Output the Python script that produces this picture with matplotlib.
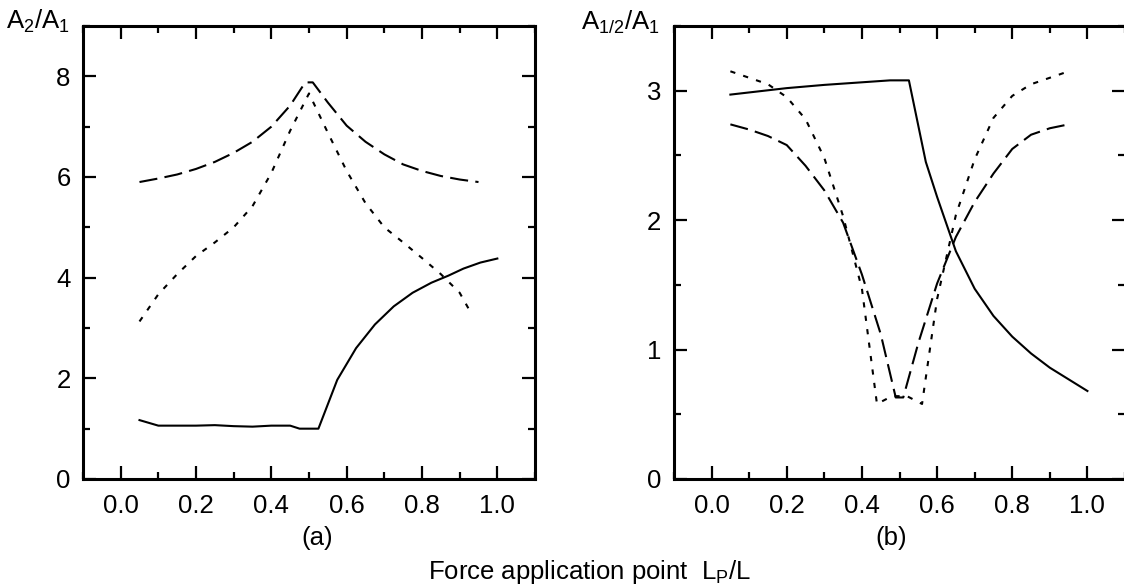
import numpy as np
import matplotlib
matplotlib.use('Agg')
import matplotlib.pyplot as plt
from matplotlib.ticker import MultipleLocator

plt.rcParams['font.family'] = ['Liberation Sans', 'DejaVu Sans']
plt.rcParams['mathtext.fontset'] = 'custom'
plt.rcParams['mathtext.rm'] = 'Liberation Sans'
plt.rcParams['mathtext.it'] = 'Liberation Sans:italic'

# (a) A2/A1 vs force application point
xa_solid = [0.05, 0.1, 0.15, 0.2, 0.25, 0.3, 0.35, 0.4, 0.45, 0.475, 0.525,
            0.575, 0.625, 0.675, 0.725, 0.775, 0.825, 0.87, 0.91, 0.955, 1.0]
ya_solid = [1.17, 1.06, 1.06, 1.06, 1.07, 1.05, 1.04, 1.06, 1.06, 1.00, 1.00,
            1.97, 2.60, 3.07, 3.43, 3.70, 3.90, 4.04, 4.18, 4.30, 4.38]
xa_dash = [0.05, 0.1, 0.15, 0.2, 0.25, 0.3, 0.35, 0.4, 0.45, 0.49, 0.51,
           0.55, 0.6, 0.65, 0.7, 0.75, 0.8, 0.85, 0.9, 0.95]
ya_dash = [5.90, 5.97, 6.05, 6.16, 6.30, 6.48, 6.70, 7.00, 7.42, 7.88, 7.88,
           7.48, 7.02, 6.70, 6.45, 6.25, 6.12, 6.02, 5.95, 5.90]
xa_dot = [0.05, 0.1, 0.15, 0.2, 0.25, 0.3, 0.35, 0.4, 0.45, 0.5,
          0.55, 0.6, 0.65, 0.7, 0.75, 0.8, 0.85, 0.9, 0.93]
ya_dot = [3.13, 3.67, 4.07, 4.43, 4.70, 5.00, 5.42, 6.08, 6.92, 7.66,
          6.88, 6.12, 5.48, 5.00, 4.70, 4.39, 4.07, 3.70, 3.30]

# (b) A1/2/A1
xb_solid = [0.05, 0.2, 0.3, 0.4, 0.475, 0.525, 0.57, 0.6, 0.65, 0.7,
            0.75, 0.8, 0.85, 0.9, 0.95, 1.0]
yb_solid = [2.97, 3.02, 3.045, 3.065, 3.08, 3.08, 2.45, 2.18, 1.76, 1.47,
            1.26, 1.10, 0.97, 0.86, 0.77, 0.68]
xb_dash = [0.05, 0.1, 0.15, 0.2, 0.25, 0.3, 0.35, 0.4, 0.45, 0.49, 0.51,
           0.55, 0.6, 0.65, 0.7, 0.75, 0.8, 0.85, 0.9, 0.95]
yb_dash = [2.74, 2.70, 2.65, 2.58, 2.42, 2.23, 1.98, 1.58, 1.12, 0.63, 0.63,
           1.05, 1.51, 1.87, 2.14, 2.36, 2.55, 2.66, 2.71, 2.74]
xb_dot = [0.05, 0.1, 0.15, 0.2, 0.25, 0.3, 0.35, 0.4, 0.44, 0.48, 0.52,
          0.56, 0.6, 0.65, 0.7, 0.75, 0.8, 0.85, 0.9, 0.95]
yb_dot = [3.15, 3.10, 3.05, 2.95, 2.78, 2.48, 2.03, 1.47, 0.58, 0.64, 0.64,
          0.58, 1.39, 2.04, 2.47, 2.79, 2.96, 3.05, 3.10, 3.15]

W, H = 1124, 587
fig = plt.figure(figsize=(W/100, H/100), dpi=100)

def px_axes(x0, x1, y0, y1):
    return fig.add_axes([x0/W, 1 - y1/H, (x1 - x0)/W, (y1 - y0)/H])

ax1 = px_axes(83, 535, 26, 479)
ax2 = px_axes(674, 1125, 26, 479)

lw = 1.5
dash = (8.7, 3.5)
dots = (2.5, 4.0)

ax1.plot(xa_solid, ya_solid, 'k-', lw=lw)
ax1.plot(xa_dash, ya_dash, 'k', lw=lw, dashes=dash)
ax1.plot(xa_dot, ya_dot, 'k', lw=lw, dashes=dots)

ax2.plot(xb_solid, yb_solid, 'k-', lw=lw)
ax2.plot(xb_dash, yb_dash, 'k', lw=lw, dashes=dash)
ax2.plot(xb_dot, yb_dot, 'k', lw=lw, dashes=dots)

ax1.set_ylim(0, 9)
ax1.yaxis.set_major_locator(MultipleLocator(2))
ax1.yaxis.set_minor_locator(MultipleLocator(1))
ax2.set_ylim(0, 3.5)
ax2.yaxis.set_major_locator(MultipleLocator(1))
ax2.yaxis.set_minor_locator(MultipleLocator(0.5))

fs = 18.5
for ax in (ax1, ax2):
    ax.set_xlim(-0.1, 1.1)
    ax.xaxis.set_major_locator(MultipleLocator(0.2))
    ax.xaxis.set_minor_locator(MultipleLocator(0.1))
    ax.xaxis.set_major_formatter(plt.FormatStrFormatter('%.1f'))
    for s in ax.spines.values():
        s.set_linewidth(2.2)
    ax.tick_params(which='both', direction='in', top=True, right=True,
                   width=1.6, labelsize=fs)
    ax.tick_params(axis='x', pad=11)
    ax.tick_params(axis='y', pad=9)
    ax.tick_params(which='major', length=9.5)
    ax.tick_params(which='minor', length=5)

fig.text(70/W, 1 - 29/H, r'$\mathrm{A_2/A_1}$', fontsize=fs, ha='right', va='baseline')
fig.text(660/W, 1 - 30/H, r'$\mathrm{A_{1/2}/A_1}$', fontsize=fs, ha='right', va='baseline')
fig.text(317/W, 1 - 538/H, '(a)', fontsize=fs, ha='center', va='center')
fig.text(891/W, 1 - 538/H, '(b)', fontsize=fs, ha='center', va='center')
fig.text(590/W, 1 - 579/H, r'Force application point  $\mathrm{L_P/L}$',
         fontsize=fs, ha='center', va='baseline')

fig.savefig('out.png', dpi=100)
